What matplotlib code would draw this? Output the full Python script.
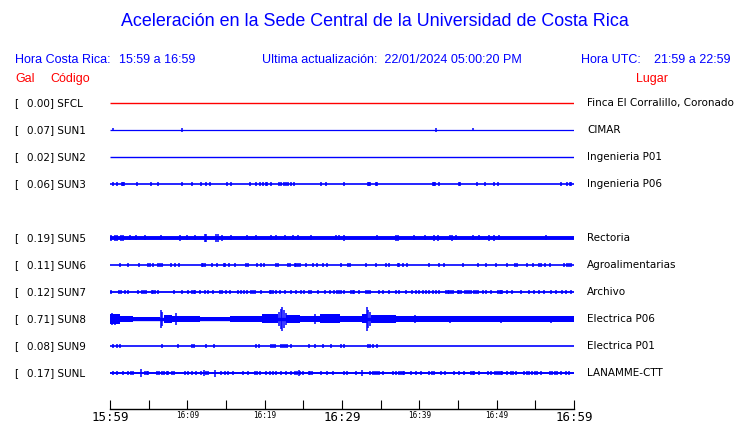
import matplotlib
matplotlib.use('Agg')
import matplotlib.pyplot as plt

W, H = 740, 423

codes = ['SFCL', 'SUN1', 'SUN2', 'SUN3', 'SUN5', 'SUN6', 'SUN7', 'SUN8', 'SUN9', 'SUNL']
gal = [0.00, 0.07, 0.02, 0.06, 0.19, 0.11, 0.12, 0.71, 0.08, 0.17]
places = ['Finca El Corralillo, Coronado', 'CIMAR', 'Ingenieria P01', 'Ingenieria P06',
          'Rectoria', 'Agroalimentarias', 'Archivo', 'Electrica P06', 'Electrica P01',
          'LANAMME-CTT']
rows = [0, 1, 2, 3, 5, 6, 7, 8, 9, 10]

tick_min = list(range(0, 61, 5))
tick_labels = ['15:59', '', '16:09', '', '16:19', '', '16:29', '', '16:39', '', '16:49', '', '16:59']

# spikes: minutes after 15:59 and half amplitude (pixels on the record)
sun1_t = [0.43, 9.25, 42.2, 47.0]
sun1_a = [1.5, 2, 2, 1.5]
sun2_t = []
sun2_a = []
sun3_t = [0.43, 0.86, 1.6, 1.72, 1.85, 3.53, 5.25, 6.24, 9.25, 10.54, 11.83, 12.47, 12.99, 15.14,
          15.61, 18.06, 18.92, 19.35, 19.78, 20.2, 20.35, 20.77, 21.81, 22.15, 22.45, 22.71, 23.01,
          23.44, 23.74, 27.31, 27.96, 30.32, 33.33, 33.5, 33.63, 34.4, 34.54, 41.72, 41.9, 42.06,
          42.5, 45.16, 45.3, 47.44, 48.52, 49.68, 50.11, 58.28, 59.14, 59.5, 59.66]
sun3_a = [2] * len(sun3_t)
sun5_t = [0.13, 0.65, 0.95, 1.38, 1.63, 2.58, 3.35, 4.52, 6.58, 9.03, 9.98, 10.97, 12.26, 12.47,
          13.76, 13.98, 14.54, 15.7, 17.72, 18.92, 20.86, 21.5, 22.58, 23.66, 24.3, 26.02, 29.25,
          29.59, 30.32, 34.5, 36.99, 37.2, 39.27, 40.73, 41.94, 42.37, 43.96, 44.22, 44.73, 46.88,
          47.66, 49.03, 49.68, 50.24, 56.34]
sun5_a = [3, 3, 3, 3, 3, 2.5, 2.5, 2.5, 2.5, 3, 2.5, 2.5, 4, 4,
          4, 4, 3, 2.5, 2.5, 2.5, 2.5, 2.5, 2.5, 2.5, 2.5, 2.5, 2.5,
          2.5, 3, 2.5, 3, 3, 2.5, 2.5, 3, 3, 2.5, 3, 2.5, 2.5,
          2.5, 3, 3, 2.5, 2.5]
sun6_t = [1.29, 2.37, 3.74, 4.95, 5.16, 5.59, 6.15, 6.45, 6.75, 7.87, 8.39, 8.9, 11.91, 12.09,
          12.26, 13.25, 13.89, 14.75, 14.92, 15.35, 16.13, 17.63, 17.85, 19.05, 19.48, 19.91, 21.5,
          21.72, 23.01, 23.23, 23.87, 24.09, 24.3, 24.52, 25.38, 26.24, 26.8, 27.53, 28.09, 29.81,
          30.75, 30.97, 33.12, 34.41, 35.7, 36.13, 37.2, 37.42, 37.85, 38.41, 41.29, 42.5, 43.14,
          45.59, 47.53, 48.6, 49.89, 51.31, 52.39, 52.69, 53.98, 54.75, 55.48, 55.78, 56.22, 56.86,
          58.71, 59.05, 59.35, 59.66]
sun6_a = [2] * len(sun6_t)
sun7_t = [0.13, 1.16, 1.42, 1.94, 2.37, 3.66, 4.17, 4.39, 4.6, 5.38, 5.59, 5.81, 6.24, 8.3, 9.33,
          10.11, 10.62, 10.84, 11.05, 11.61, 12.26, 12.69, 13.33, 14.19, 14.49, 14.97, 15.48,
          16.56, 16.9, 17.33, 17.76, 18.28, 18.49, 18.71, 19.57, 20.65, 20.86, 21.08, 21.51, 21.94,
          22.58, 23.44, 24.09, 24.73, 25.08, 25.68, 26.02, 26.88, 27.74, 28.39, 29.03, 29.33, 29.59,
          29.81, 30.32, 31.18, 31.4, 31.61, 32.26, 33.12, 33.38, 33.63, 34.84, 35.27, 36.13, 36.99,
          37.42, 38.28, 39.01, 39.57, 40.0, 40.43, 40.86, 41.29, 41.72, 42.15, 42.58, 43.44, 43.66,
          43.87, 44.09, 44.3, 44.95, 45.16, 45.38, 45.89, 46.15, 46.41, 46.67, 47.1, 47.31, 47.53,
          48.17, 48.6, 49.33, 50.11, 50.37, 50.62, 50.75, 51.4, 52.04, 53.12, 54.19, 54.84, 55.48,
          56.13, 56.99, 57.63, 58.49, 58.92, 59.57]
sun7_a = [2] * len(sun7_t)
sun9_t = [0.43, 0.86, 1.29, 6.67, 8.73, 10.62, 10.88, 12.47, 13.46, 18.92, 19.27, 20.86, 21.12,
          21.38, 22.06, 22.32, 22.58, 22.92, 23.44, 25.68, 26.45, 27.53, 28.52, 29.81, 30.32,
          33.33, 33.63, 33.98, 34.54]
sun9_a = [2] * len(sun9_t)
sunl_t = [0.43, 0.86, 1.72, 2.37, 2.67, 3.01, 4.0, 4.52, 4.73, 4.95, 6.02, 6.32, 6.67, 6.97, 7.31,
          7.53, 7.96, 8.3, 9.68, 10.11, 10.62, 11.18, 11.83, 12.13, 12.39, 12.69, 13.55, 14.41,
          14.84, 15.27, 15.91, 17.2, 17.85, 18.8, 19.05, 19.35, 20.22, 20.65, 21.08, 21.51, 22.06,
          22.8, 23.35, 23.87, 24.22, 24.39, 24.52, 24.95, 25.68, 25.89, 26.11, 27.23, 28.09, 28.82,
          30.32, 30.67, 31.83, 32.56, 33.68, 33.98, 34.28, 34.54, 34.84, 35.27, 36.56, 36.99, 37.42,
          37.63, 37.85, 38.06, 38.92, 39.57, 40.22, 41.29, 41.59, 41.94, 42.8, 43.31, 44.43, 45.16,
          45.81, 46.67, 46.88, 47.1, 47.74, 48.82, 49.25, 49.76, 50.02, 50.28, 50.54, 50.75, 51.4,
          51.91, 52.17, 52.47, 53.55, 53.89, 54.24, 54.58, 54.92, 55.27, 55.7, 56.9, 57.2, 57.5,
          57.85, 58.37, 58.92, 59.35]
sunl_a = [2] * len(sunl_t)
for m, a in [(4.0, 4), (12.13, 3), (13.55, 3.5), (24.39, 3), (32.56, 3)]:
    sunl_a[sunl_t.index(m)] = a

# SUN8: envelope segments (start, end, half amplitude) and isolated peaks
sun8_seg = [(0, 1.29, 5), (1.29, 2.97, 3), (2.97, 6.45, 2), (6.97, 8.0, 4), (8.0, 11.61, 2.5),
            (11.61, 15.48, 1.5), (15.48, 19.61, 2.5), (19.61, 21.68, 4.5), (22.71, 24.52, 4),
            (24.52, 27.1, 3), (27.1, 29.68, 4.5), (29.68, 32.65, 2.5), (32.65, 33.29, 4.5),
            (33.8, 37.0, 4), (37.0, 40.0, 3), (40.0, 60.0, 2.5)]
sun8_t = [0.3, 0.6, 1.0, 6.58, 6.7, 8.58, 21.81, 22.06, 22.19, 22.45, 22.71, 26.45, 33.29, 33.42,
          33.68, 35.2, 39.5, 44.0, 50.5, 57.0]
sun8_a = [6, 5.5, 5, 9.5, 7, 6, 7, 10, 12, 9, 6, 5, 12, 9, 7, 4.5, 4, 3.5, 3.5, 3.5]

spikes = {'SFCL': ([], []), 'SUN1': (sun1_t, sun1_a), 'SUN2': (sun2_t, sun2_a),
          'SUN3': (sun3_t, sun3_a), 'SUN5': (sun5_t, sun5_a), 'SUN6': (sun6_t, sun6_a),
          'SUN7': (sun7_t, sun7_a), 'SUN8': (sun8_t, sun8_a), 'SUN9': (sun9_t, sun9_a),
          'SUNL': (sunl_t, sunl_a)}
base_lw = {'SFCL': 1.0, 'SUN1': 0.9, 'SUN2': 1.0, 'SUN3': 1.2, 'SUN5': 2.8, 'SUN6': 1.2,
           'SUN7': 1.3, 'SUN8': 2.4, 'SUN9': 1.2, 'SUNL': 1.4}

BLUE = '#0000ff'
RED = '#ff0000'
ROWPX = 27.0

fig = plt.figure(figsize=(W / 100, H / 100), dpi=100)
ax = fig.add_axes([110 / W, (H - 409) / H, 464 / W, (409 - 90) / H])
ax.set_xlim(0, 60)
ax.set_ylim(-(409 - 103) / ROWPX, (103 - 90) / ROWPX)

for code, r in zip(codes, rows):
    y = -r
    col = RED if code == 'SFCL' else BLUE
    ax.hlines(y, 0, 60, color=col, lw=base_lw[code])
    if code == 'SUN8':
        for s, e, a in sun8_seg:
            ax.fill_between([s, e], y - a / ROWPX, y + a / ROWPX, color=col, lw=0)
    t, a = spikes[code]
    if t:
        a = [v / ROWPX for v in a]
        ax.vlines(t, [y - v for v in a], [y + v for v in a], color=col, lw=1.1)

for s in ['top', 'left', 'right']:
    ax.spines[s].set_visible(False)
ax.spines['bottom'].set_linewidth(1.0)
ax.set_yticks([])
ax.set_xticks(tick_min)
ax.set_xticklabels(tick_labels)
ax.tick_params(axis='x', direction='in', length=6.5, width=0.8, pad=1.5)
for lab in ax.get_xticklabels():
    lab.set_family('DejaVu Sans Mono')
    lab.set_fontsize(9 if lab.get_text() in ('15:59', '16:29', '16:59') else 5.5)

# header texts
hf = 'Liberation Sans'
fig.text(375 / W, 1 - 22 / H, 'Aceleración en la Sede Central de la Universidad de Costa Rica',
         ha='center', va='center', color=BLUE, fontsize=12.9, family=hf)
fig.text(15 / W, 1 - 60 / H, 'Hora Costa Rica:', ha='left', va='center', color=BLUE, fontsize=9, family=hf)
fig.text(119 / W, 1 - 60 / H, '15:59 a 16:59', ha='left', va='center', color=BLUE, fontsize=9, family=hf)
fig.text(262 / W, 1 - 60 / H, 'Ultima actualización:  22/01/2024 05:00:20 PM', ha='left', va='center',
         color=BLUE, fontsize=9, family=hf)
fig.text(581 / W, 1 - 60 / H, 'Hora UTC:', ha='left', va='center', color=BLUE, fontsize=9, family=hf)
fig.text(731 / W, 1 - 60 / H, '21:59 a 22:59', ha='right', va='center', color=BLUE, fontsize=9, family=hf)
fig.text(15 / W, 1 - 79 / H, 'Gal', ha='left', va='center', color=RED, fontsize=9, family=hf)
fig.text(50 / W, 1 - 79 / H, 'Código', ha='left', va='center', color=RED, fontsize=9, family=hf)
fig.text(668 / W, 1 - 79 / H, 'Lugar', ha='right', va='center', color=RED, fontsize=9, family=hf)

for code, g, place, r in zip(codes, gal, places, rows):
    ypx = 103 + ROWPX * r
    fig.text(14 / W, 1 - ypx / H, '[', ha='left', va='center', fontsize=7.5)
    fig.text(27 / W, 1 - ypx / H, '%.2f] %s' % (g, code), ha='left', va='center', fontsize=7.5)
    fig.text(587 / W, 1 - ypx / H, place, ha='left', va='center', fontsize=7.5)

fig.savefig('out.png', dpi=100)
